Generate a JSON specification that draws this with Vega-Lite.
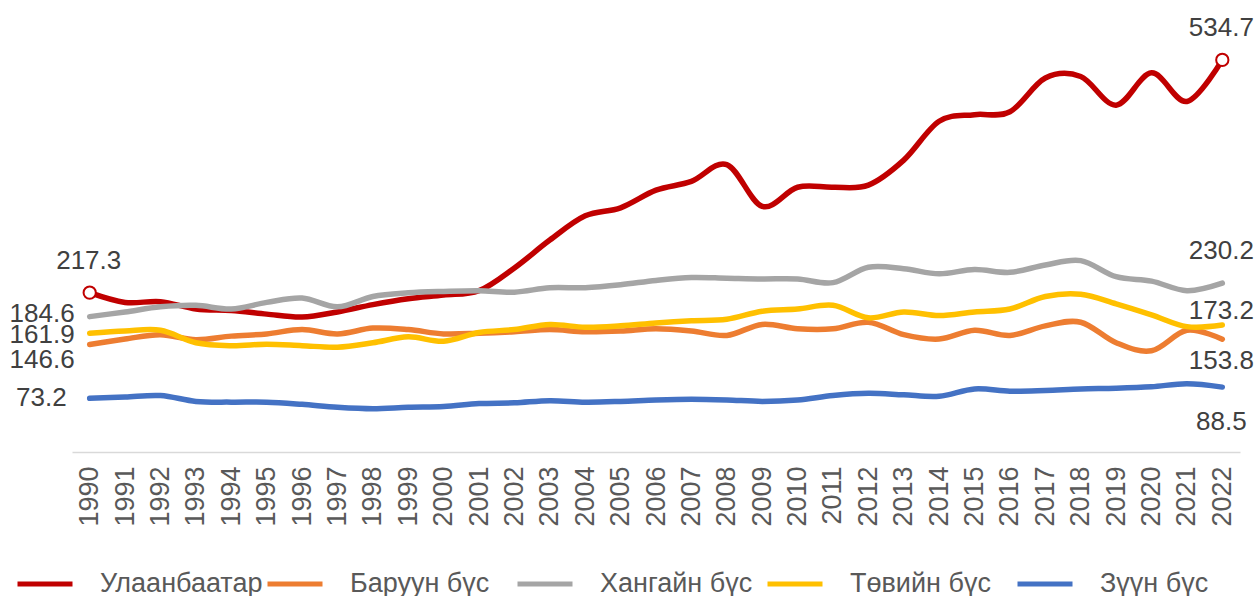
{
  "$schema": "https://vega.github.io/schema/vega-lite/v6.json",
  "autosize": {"type": "none"},
  "padding": {"left": 72, "top": 12, "right": 17, "bottom": 144},
  "width": 1168,
  "height": 440,
  "background": "white",
  "config": {"view": {"stroke": null}},
  "data": {"values": [
    {"year":1990,"series":"Улаанбаатар","value":217.3},{"year":1991,"series":"Улаанбаатар","value":204},{"year":1992,"series":"Улаанбаатар","value":205},{"year":1993,"series":"Улаанбаатар","value":195},{"year":1994,"series":"Улаанбаатар","value":193},{"year":1995,"series":"Улаанбаатар","value":188},{"year":1996,"series":"Улаанбаатар","value":184},{"year":1997,"series":"Улаанбаатар","value":191},{"year":1998,"series":"Улаанбаатар","value":201},{"year":1999,"series":"Улаанбаатар","value":209},{"year":2000,"series":"Улаанбаатар","value":214},{"year":2001,"series":"Улаанбаатар","value":220},{"year":2002,"series":"Улаанбаатар","value":251},{"year":2003,"series":"Улаанбаатар","value":289},{"year":2004,"series":"Улаанбаатар","value":322},{"year":2005,"series":"Улаанбаатар","value":333},{"year":2006,"series":"Улаанбаатар","value":357},{"year":2007,"series":"Улаанбаатар","value":369},{"year":2008,"series":"Улаанбаатар","value":392},{"year":2009,"series":"Улаанбаатар","value":335},{"year":2010,"series":"Улаанбаатар","value":361},{"year":2011,"series":"Улаанбаатар","value":361},{"year":2012,"series":"Улаанбаатар","value":364},{"year":2013,"series":"Улаанбаатар","value":398},{"year":2014,"series":"Улаанбаатар","value":451},{"year":2015,"series":"Улаанбаатар","value":460},{"year":2016,"series":"Улаанбаатар","value":464},{"year":2017,"series":"Улаанбаатар","value":510},{"year":2018,"series":"Улаанбаатар","value":512},{"year":2019,"series":"Улаанбаатар","value":473},{"year":2020,"series":"Улаанбаатар","value":517},{"year":2021,"series":"Улаанбаатар","value":478},{"year":2022,"series":"Улаанбаатар","value":534.7},
    {"year":1990,"series":"Баруун бүс","value":146.6},{"year":1991,"series":"Баруун бүс","value":154},{"year":1992,"series":"Баруун бүс","value":160},{"year":1993,"series":"Баруун бүс","value":153},{"year":1994,"series":"Баруун бүс","value":158},{"year":1995,"series":"Баруун бүс","value":161},{"year":1996,"series":"Баруун бүс","value":167},{"year":1997,"series":"Баруун бүс","value":161},{"year":1998,"series":"Баруун бүс","value":169},{"year":1999,"series":"Баруун бүс","value":167},{"year":2000,"series":"Баруун бүс","value":161},{"year":2001,"series":"Баруун бүс","value":162},{"year":2002,"series":"Баруун бүс","value":164},{"year":2003,"series":"Баруун бүс","value":167},{"year":2004,"series":"Баруун бүс","value":164},{"year":2005,"series":"Баруун бүс","value":165},{"year":2006,"series":"Баруун бүс","value":168},{"year":2007,"series":"Баруун бүс","value":165},{"year":2008,"series":"Баруун бүс","value":159},{"year":2009,"series":"Баруун бүс","value":174},{"year":2010,"series":"Баруун бүс","value":168},{"year":2011,"series":"Баруун бүс","value":168},{"year":2012,"series":"Баруун бүс","value":177},{"year":2013,"series":"Баруун бүс","value":160},{"year":2014,"series":"Баруун бүс","value":154},{"year":2015,"series":"Баруун бүс","value":166},{"year":2016,"series":"Баруун бүс","value":159},{"year":2017,"series":"Баруун бүс","value":172},{"year":2018,"series":"Баруун бүс","value":177},{"year":2019,"series":"Баруун бүс","value":149},{"year":2020,"series":"Баруун бүс","value":138},{"year":2021,"series":"Баруун бүс","value":166},{"year":2022,"series":"Баруун бүс","value":153.8},
    {"year":1990,"series":"Хангайн бүс","value":184.6},{"year":1991,"series":"Хангайн бүс","value":191},{"year":1992,"series":"Хангайн бүс","value":198},{"year":1993,"series":"Хангайн бүс","value":200},{"year":1994,"series":"Хангайн бүс","value":195},{"year":1995,"series":"Хангайн бүс","value":204},{"year":1996,"series":"Хангайн бүс","value":210},{"year":1997,"series":"Хангайн бүс","value":198},{"year":1998,"series":"Хангайн бүс","value":212},{"year":1999,"series":"Хангайн бүс","value":217},{"year":2000,"series":"Хангайн бүс","value":219},{"year":2001,"series":"Хангайн бүс","value":220},{"year":2002,"series":"Хангайн бүс","value":218},{"year":2003,"series":"Хангайн бүс","value":224},{"year":2004,"series":"Хангайн бүс","value":224},{"year":2005,"series":"Хангайн бүс","value":228},{"year":2006,"series":"Хангайн бүс","value":234},{"year":2007,"series":"Хангайн бүс","value":238},{"year":2008,"series":"Хангайн бүс","value":237},{"year":2009,"series":"Хангайн бүс","value":236},{"year":2010,"series":"Хангайн бүс","value":236},{"year":2011,"series":"Хангайн бүс","value":231},{"year":2012,"series":"Хангайн бүс","value":252},{"year":2013,"series":"Хангайн бүс","value":250},{"year":2014,"series":"Хангайн бүс","value":243},{"year":2015,"series":"Хангайн бүс","value":249},{"year":2016,"series":"Хангайн бүс","value":245},{"year":2017,"series":"Хангайн бүс","value":255},{"year":2018,"series":"Хангайн бүс","value":261},{"year":2019,"series":"Хангайн бүс","value":239},{"year":2020,"series":"Хангайн бүс","value":233},{"year":2021,"series":"Хангайн бүс","value":220},{"year":2022,"series":"Хангайн бүс","value":230.2},
    {"year":1990,"series":"Төвийн бүс","value":161.9},{"year":1991,"series":"Төвийн бүс","value":165},{"year":1992,"series":"Төвийн бүс","value":166},{"year":1993,"series":"Төвийн бүс","value":149},{"year":1994,"series":"Төвийн бүс","value":145},{"year":1995,"series":"Төвийн бүс","value":147},{"year":1996,"series":"Төвийн бүс","value":145},{"year":1997,"series":"Төвийн бүс","value":143},{"year":1998,"series":"Төвийн бүс","value":149},{"year":1999,"series":"Төвийн бүс","value":157},{"year":2000,"series":"Төвийн бүс","value":151},{"year":2001,"series":"Төвийн бүс","value":163},{"year":2002,"series":"Төвийн бүс","value":167},{"year":2003,"series":"Төвийн бүс","value":174},{"year":2004,"series":"Төвийн бүс","value":170},{"year":2005,"series":"Төвийн бүс","value":172},{"year":2006,"series":"Төвийн бүс","value":176},{"year":2007,"series":"Төвийн бүс","value":179},{"year":2008,"series":"Төвийн бүс","value":181},{"year":2009,"series":"Төвийн бүс","value":192},{"year":2010,"series":"Төвийн бүс","value":195},{"year":2011,"series":"Төвийн бүс","value":200},{"year":2012,"series":"Төвийн бүс","value":183},{"year":2013,"series":"Төвийн бүс","value":191},{"year":2014,"series":"Төвийн бүс","value":186},{"year":2015,"series":"Төвийн бүс","value":191},{"year":2016,"series":"Төвийн бүс","value":195},{"year":2017,"series":"Төвийн бүс","value":212},{"year":2018,"series":"Төвийн бүс","value":215},{"year":2019,"series":"Төвийн бүс","value":202},{"year":2020,"series":"Төвийн бүс","value":187},{"year":2021,"series":"Төвийн бүс","value":171},{"year":2022,"series":"Төвийн бүс","value":173.2},
    {"year":1990,"series":"Зүүн бүс","value":73.2},{"year":1991,"series":"Зүүн бүс","value":75},{"year":1992,"series":"Зүүн бүс","value":77},{"year":1993,"series":"Зүүн бүс","value":69},{"year":1994,"series":"Зүүн бүс","value":68},{"year":1995,"series":"Зүүн бүс","value":68},{"year":1996,"series":"Зүүн бүс","value":65},{"year":1997,"series":"Зүүн бүс","value":61},{"year":1998,"series":"Зүүн бүс","value":59},{"year":1999,"series":"Зүүн бүс","value":61},{"year":2000,"series":"Зүүн бүс","value":62},{"year":2001,"series":"Зүүн бүс","value":66},{"year":2002,"series":"Зүүн бүс","value":67},{"year":2003,"series":"Зүүн бүс","value":70},{"year":2004,"series":"Зүүн бүс","value":68},{"year":2005,"series":"Зүүн бүс","value":69},{"year":2006,"series":"Зүүн бүс","value":71},{"year":2007,"series":"Зүүн бүс","value":72},{"year":2008,"series":"Зүүн бүс","value":71},{"year":2009,"series":"Зүүн бүс","value":69},{"year":2010,"series":"Зүүн бүс","value":71},{"year":2011,"series":"Зүүн бүс","value":77},{"year":2012,"series":"Зүүн бүс","value":80},{"year":2013,"series":"Зүүн бүс","value":78},{"year":2014,"series":"Зүүн бүс","value":76},{"year":2015,"series":"Зүүн бүс","value":86},{"year":2016,"series":"Зүүн бүс","value":83},{"year":2017,"series":"Зүүн бүс","value":84},{"year":2018,"series":"Зүүн бүс","value":86},{"year":2019,"series":"Зүүн бүс","value":87},{"year":2020,"series":"Зүүн бүс","value":89},{"year":2021,"series":"Зүүн бүс","value":93},{"year":2022,"series":"Зүүн бүс","value":88.5}
  ]},
  "encoding": {
    "x": {"field": "year", "type": "ordinal", "scale": {"type": "point", "padding": 0.5},
      "axis": {"title": null, "labelAngle": -90, "labelFont": "Liberation Sans", "labelFontSize": 27, "labelColor": "#595959", "labelPadding": 14, "ticks": false, "domainColor": "#D9D9D9", "domainWidth": 1.5, "grid": false}},
    "y": {"field": "value", "type": "quantitative", "scale": {"domain": [0, 600], "nice": false, "zero": true}, "axis": null}
  },
  "layer": [
    {"mark": {"type": "line", "interpolate": "cardinal", "strokeWidth": 5.5, "strokeCap": "round", "strokeJoin": "round"},
     "encoding": {"color": {"field": "series", "type": "nominal",
        "scale": {"domain": ["Улаанбаатар", "Баруун бүс", "Хангайн бүс", "Төвийн бүс", "Зүүн бүс"], "range": ["#C00000", "#ED7D31", "#A5A5A5", "#FFC000", "#4472C4"]},
        "legend": {"orient": "none", "legendX": -57, "legendY": 542, "direction": "horizontal", "columns": 5, "gridAlign": "all", "title": null, "symbolType": "stroke", "symbolSize": 3025, "symbolStrokeWidth": 5, "labelFont": "Liberation Sans", "labelFontSize": 27, "labelColor": "#595959", "labelOffset": 25, "columnPadding": -6, "labelLimit": 400}},
       "detail": {"field": "series"}}},
    {"transform": [{"filter": "datum.series == 'Улаанбаатар' && (datum.year == 1990 || datum.year == 2022)"}],
     "mark": {"type": "point", "shape": "circle", "filled": true, "fill": "white", "stroke": "#C00000", "strokeWidth": 2, "size": 150, "opacity": 1}},
    {"transform": [{"filter": "datum.series == 'Улаанбаатар' || (datum.series == 'Хангайн бүс' && datum.year == 2022)"}, {"filter": "datum.year == 1990 || datum.year == 2022"}],
     "mark": {"type": "text", "align": "center", "baseline": "middle", "dy": -32, "dx": -1, "font": "Liberation Sans", "fontSize": 26, "color": "#404040"},
     "encoding": {"text": {"field": "value", "type": "quantitative", "format": ".1f"}}},
    {"transform": [{"filter": "datum.series == 'Хангайн бүс' && datum.year == 1990"}],
     "mark": {"type": "text", "align": "right", "baseline": "middle", "dx": -15, "dy": -3, "font": "Liberation Sans", "fontSize": 26, "color": "#404040"},
     "encoding": {"text": {"field": "value", "type": "quantitative", "format": ".1f"}}},
    {"transform": [{"filter": "datum.series == 'Төвийн бүс' && datum.year == 1990"}],
     "mark": {"type": "text", "align": "right", "baseline": "middle", "dx": -15, "dy": 2, "font": "Liberation Sans", "fontSize": 26, "color": "#404040"},
     "encoding": {"text": {"field": "value", "type": "quantitative", "format": ".1f"}}},
    {"transform": [{"filter": "datum.series == 'Баруун бүс' && datum.year == 1990"}],
     "mark": {"type": "text", "align": "right", "baseline": "middle", "dx": -15, "dy": 16, "font": "Liberation Sans", "fontSize": 26, "color": "#404040"},
     "encoding": {"text": {"field": "value", "type": "quantitative", "format": ".1f"}}},
    {"transform": [{"filter": "datum.series == 'Зүүн бүс' && datum.year == 1990"}],
     "mark": {"type": "text", "align": "right", "baseline": "middle", "dx": -23, "dy": 0, "font": "Liberation Sans", "fontSize": 26, "color": "#404040"},
     "encoding": {"text": {"field": "value", "type": "quantitative", "format": ".1f"}}},
    {"transform": [{"filter": "datum.series == 'Төвийн бүс' && datum.year == 2022"}],
     "mark": {"type": "text", "align": "center", "baseline": "middle", "dx": -1, "dy": -14, "font": "Liberation Sans", "fontSize": 26, "color": "#404040"},
     "encoding": {"text": {"field": "value", "type": "quantitative", "format": ".1f"}}},
    {"transform": [{"filter": "datum.series == 'Баруун бүс' && datum.year == 2022"}],
     "mark": {"type": "text", "align": "center", "baseline": "middle", "dx": -1, "dy": 22, "font": "Liberation Sans", "fontSize": 26, "color": "#404040"},
     "encoding": {"text": {"field": "value", "type": "quantitative", "format": ".1f"}}},
    {"transform": [{"filter": "datum.series == 'Зүүн бүс' && datum.year == 2022"}],
     "mark": {"type": "text", "align": "center", "baseline": "middle", "dx": -1, "dy": 35, "font": "Liberation Sans", "fontSize": 26, "color": "#404040"},
     "encoding": {"text": {"field": "value", "type": "quantitative", "format": ".1f"}}}
  ]
}
